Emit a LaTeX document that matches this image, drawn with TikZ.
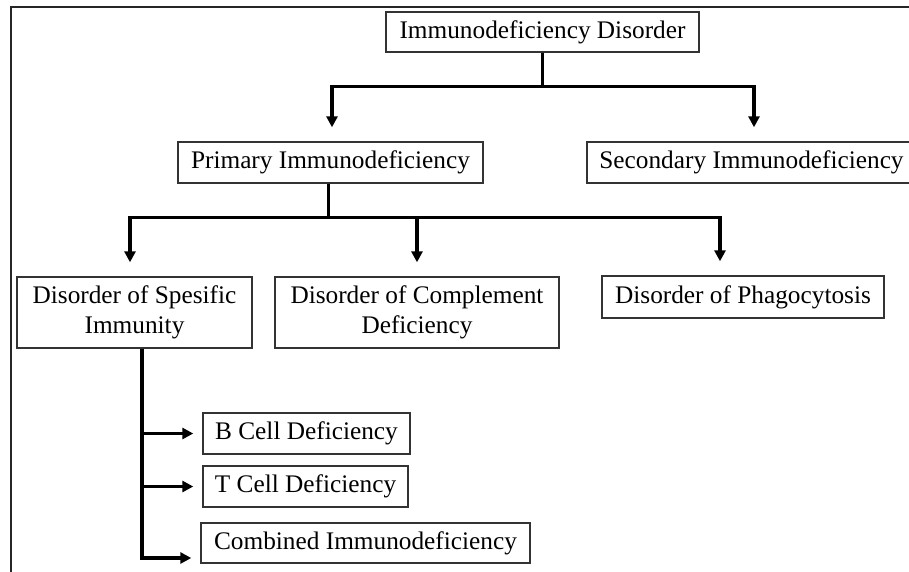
\documentclass[tikz,border=0pt]{standalone}
\usepackage{fontspec}
\setmainfont{Liberation Serif}
\usetikzlibrary{arrows.meta}
\begin{document}
\begin{tikzpicture}[x=1pt,y=-1pt,
  box/.style={draw=black!80,line width=1.4pt,inner sep=0pt,align=center,
    font=\fontsize{25.3}{30.5}\selectfont},
  arr/.style={line width=3.2pt,line join=miter,draw=black,
    -{Triangle[length=11pt,width=11pt]}},
  varr/.style={arr,shorten >=14pt},
  harr/.style={arr,shorten >=9pt}]
\useasboundingbox (0,0) rectangle (909,571);
\draw[line width=2pt,black!85] (930,7) -- (11,7) -- (11,590);
\node[box,minimum width=313pt,minimum height=40pt] (root) at (542.5,32) {Immunodeficiency Disorder};
\node[box,minimum width=305pt,minimum height=41pt] (prim) at (330.5,162.5) {Primary Immunodeficiency};
\node[box,minimum width=329pt,minimum height=41pt] (sec) at (751.5,162.5) {Secondary Immunodeficiency};
\node[box,minimum width=235pt,minimum height=71pt] (spec) at (134.5,312.5) {Disorder of Spesific\\Immunity};
\node[box,minimum width=284pt,minimum height=71pt] (comp) at (417,312.5) {Disorder of Complement\\Deficiency};
\node[box,minimum width=282pt,minimum height=42pt] (phag) at (743,297) {Disorder of Phagocytosis};
\node[box,minimum width=207pt,minimum height=41pt] (bcell) at (306.5,433.5) {B Cell Deficiency};
\node[box,minimum width=205pt,minimum height=41pt] (tcell) at (305.5,486.5) {T Cell Deficiency};
\node[box,minimum width=329pt,minimum height=40pt] (comb) at (365.5,543) {Combined Immunodeficiency};
% level 1
\draw[varr] (root.south) -- ++(0,34) -| ([xshift=1.5pt]prim.north);
\draw[varr] (root.south) -- ++(0,34) -| ([xshift=2.5pt]sec.north);
% level 2
\draw[varr] ([xshift=-2pt]prim.south) -- ++(0,34) -| ([xshift=-4.5pt]spec.north);
\draw[varr] ([xshift=-2pt]prim.south) -- ++(0,34) -| (comp.north);
\draw[varr] ([xshift=-2pt]prim.south) -- ++(0,34) -| ([xshift=-23pt]phag.north);
% level 3
\draw[harr] ([xshift=7.5pt]spec.south) |- (bcell.west);
\draw[harr] ([xshift=7.5pt]spec.south) |- (tcell.west);
\draw[harr] ([xshift=7.5pt]spec.south) |- ([yshift=-15pt]comb.west);
\end{tikzpicture}
\end{document}
